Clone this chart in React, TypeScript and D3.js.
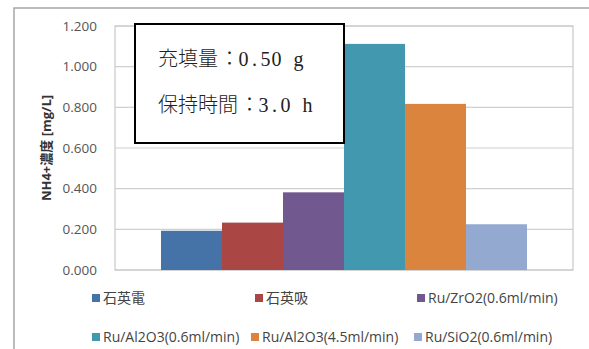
import React from "react";
import * as d3 from "d3";

// Series (one category, six catalysts)
const seriesNames = [
  "石英電",
  "石英吸",
  "Ru/ZrO2(0.6ml/min)",
  "Ru/Al2O3(0.6ml/min)",
  "Ru/Al2O3(4.5ml/min)",
  "Ru/SiO2(0.6ml/min)",
];
const seriesValues = [0.193, 0.233, 0.382, 1.112, 0.817, 0.225];
const seriesColors = ["#4573A8", "#AA4644", "#71588F", "#4198AF", "#DB843D", "#93A9CF"];
const yTicks = [0, 0.2, 0.4, 0.6, 0.8, 1.0, 1.2];
const yTitle = "NH4+濃度 [mg/L]";
const noteLines = ["充填量：0.50 g", "保持時間：3.0 h"];

const W = 589;
const H = 349;
const plot = { left: 115, right: 573, top: 26, bottom: 270 };
const legendRows = [
  { y: 298, xs: [92, 255, 417] },
  { y: 337, xs: [92, 251, 414] },
];

// Fixed-pitch layout for the note: full-width cells for CJK, half cells for ASCII
const NOTE_FS = 20;
const FULL_CELL = 20;
const HALF_CELL = 11;
function layoutChars(line: string, x0: number) {
  let x = x0;
  return Array.from(line).map((ch) => {
    const wide = ch.charCodeAt(0) > 0x7f;
    const w = wide ? FULL_CELL : HALF_CELL;
    const nudge = ch === "：" ? 1.5 : 0;
    const cell = { ch, x: x + w / 2 + nudge, wide };
    x += w;
    return cell;
  });
}

export default function App() {
  const y = d3.scaleLinear().domain([0, 1.2]).range([plot.bottom, plot.top]);
  const x = d3
    .scaleBand<string>()
    .domain(seriesNames)
    .range([plot.left + 46, plot.right - 46])
    .paddingInner(0)
    .paddingOuter(0);
  const fmt = d3.format(".3f");
  const sans = "'Open Sans', 'Noto Sans CJK JP', sans-serif";

  return (
    <svg
      width={W}
      height={H}
      lang="ja"
      style={{ position: "absolute", left: 0, top: 0, background: "#fff" }}
      fontFamily={sans}
    >
      {/* chart frame */}
      <rect x={14} y={8} width={W} height={H} fill="#fff" stroke="#a6a6a6" strokeWidth={1.5} />

      {/* gridlines */}
      {yTicks.map((t) => (
        <line
          key={t}
          x1={plot.left}
          x2={plot.right}
          y1={y(t)}
          y2={y(t)}
          stroke="#d0d0d0"
          strokeWidth={1.2}
        />
      ))}
      <rect
        x={plot.left}
        y={plot.top}
        width={plot.right - plot.left}
        height={plot.bottom - plot.top}
        fill="none"
        stroke="#c8c8c8"
        strokeWidth={1.2}
      />

      {/* bars */}
      {seriesNames.map((s, i) => (
        <rect
          key={s}
          x={x(s)}
          y={y(seriesValues[i])}
          width={x.bandwidth()}
          height={y(0) - y(seriesValues[i])}
          fill={seriesColors[i]}
        />
      ))}

      {/* y tick labels */}
      {yTicks.map((t) => (
        <text
          key={t}
          x={97}
          y={y(t)}
          dy="0.35em"
          textAnchor="end"
          fontSize={13.5}
          fill="#555"
        >
          {fmt(t)}
        </text>
      ))}

      {/* y axis title */}
      <text
        transform={`translate(46,${(plot.top + plot.bottom) / 2}) rotate(-90)`}
        textAnchor="middle"
        dy="0.35em"
        fontSize={13}
        fontWeight="bold"
        fill="#333"
      >
        {yTitle}
      </text>

      {/* note box */}
      <rect x={135} y={24} width={209} height={119} fill="#fff" stroke="#000" strokeWidth={2} />
      {noteLines.map((line, i) => (
        <text key={line} y={66 + i * 46} fontSize={NOTE_FS} fill="#222" textAnchor="middle">
          {layoutChars(line, 158).map((c, j) => (
            <tspan
              key={j}
              x={c.x}
              fontFamily={c.wide ? "'Noto Sans CJK JP', sans-serif" : "'Liberation Serif', serif"}
              fontWeight={c.wide ? 300 : 400}
            >
              {c.ch}
            </tspan>
          ))}
        </text>
      ))}

      {/* legend */}
      {seriesNames.map((s, i) => {
        const row = legendRows[Math.floor(i / 3)];
        const lx = row.xs[i % 3];
        return (
          <g key={s}>
            <rect x={lx} y={row.y - 4} width={8} height={8} fill={seriesColors[i]} />
            <text x={lx + 11} y={row.y} dy="0.35em" fontSize={14} fill="#444">
              {s}
            </text>
          </g>
        );
      })}
    </svg>
  );
}
